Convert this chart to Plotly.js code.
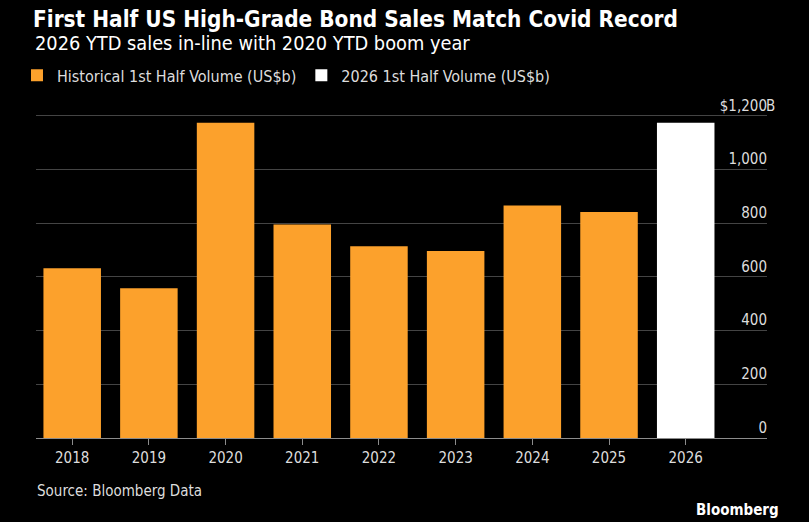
<!DOCTYPE html>
<html>
<head>
<meta charset="utf-8">
<script src="https://cdn.plot.ly/plotly-3.0.1.min.js"></script>
<style>html,body{margin:0;padding:0;background:#000;}#chart{width:809px;height:522px;}</style>
</head>
<body>
<div id="chart"></div>
<script>
const years = ['2018','2019','2020','2021','2022','2023','2024','2025','2026'];
const histYears = ['2018','2019','2020','2021','2022','2023','2024','2025'];
const histValues = [632, 558, 1174, 795, 714, 697, 866, 842];
const ytdYears = ['2026'];
const ytdValues = [1174];
const yTickVals = [0, 200, 400, 600, 800, 1000, 1200];
const yTickText = ['0', '200', '400', '600', '800', '1,000', '$1,200'];

const FONT = 'DejaVu Sans Condensed, Liberation Sans Narrow, Arial Narrow, sans-serif';
const ORANGE = '#FCA12C';

// y scale: 0 at 438px, 1200 at 115.5px
const PX_PER_UNIT = (438 - 115.5) / 1200;
const Y_TOP = 1300;
const plotH = Y_TOP * PX_PER_UNIT;
const topMargin = 438 - plotH;

const traces = [
  {type:'bar', x: histYears, y: histValues, name:'Historical 1st Half Volume (US$b)',
   marker:{color: ORANGE}, hoverinfo:'x+y'},
  {type:'bar', x: ytdYears, y: ytdValues, name:'2026 1st Half Volume (US$b)',
   marker:{color:'#FFFFFF'}, hoverinfo:'x+y'}
];

const layout = {
  width: 809, height: 522,
  paper_bgcolor:'#000', plot_bgcolor:'#000',
  margin:{l:36, r:42, t:topMargin, b:84},
  barmode:'overlay', bargap:0.25,
  font:{family: FONT, color:'#DDDDDD', size:15},
  title:{text:'<b>First Half US High-Grade Bond Sales Match Covid Record</b>',
    x:33/809, xanchor:'left', xref:'container', y:1-19/522, yanchor:'middle', yref:'container',
    font:{family: FONT, size:22.4, color:'#FFFFFF'}},
  showlegend:true,
  legend:{orientation:'h', x:-0.026, xanchor:'left', y:(438-75)/plotH, yanchor:'middle',
    font:{family: FONT, size:16, color:'#DDDDDD'}, bgcolor:'rgba(0,0,0,0)'},
  xaxis:{type:'category', categoryorder:'array', categoryarray: years, range:[-0.472, 9.06],
    showline:true, linecolor:'#8C8C8C', linewidth:1, ticks:'outside', ticklen:6, tickcolor:'#8C8C8C', tickwidth:1,
    showgrid:false, tickfont:{family: FONT, size:15, color:'#DDDDDD'}, fixedrange:true},
  yaxis:{range:[0, Y_TOP], side:'right', tickvals: yTickVals, ticktext: yTickText,
    ticklabelposition:'inside top', ticklabelstandoff:-3, ticks:'', showgrid:true, gridcolor:'#444444', gridwidth:1,
    zeroline:false, showline:false,
    tickfont:{family: FONT, size:15, color:'#DDDDDD'}, fixedrange:true},
  annotations:[
    {text:'2026 YTD sales in-line with 2020 YTD boom year', xref:'paper', yref:'paper',
     x:-3/731, y:(438-43)/plotH, xanchor:'left', yanchor:'middle', showarrow:false,
     font:{family: FONT, size:19.8, color:'#FFFFFF'}},
    {text:'B', xref:'paper', yref:'y', x:1, y:1200, xanchor:'left', yanchor:'bottom', yshift:-1, xshift:-3.5,
     showarrow:false, font:{family: FONT, size:15, color:'#DDDDDD'}},
    {text:'Source: Bloomberg Data', xref:'paper', yref:'paper', x:-1/731, y:(438-491)/plotH,
     xanchor:'left', yanchor:'middle', showarrow:false, font:{family: FONT, size:15, color:'#DDDDDD'}},
    {text:'<b>Bloomberg</b>', xref:'paper', yref:'paper', x:(781-36)/731, y:(438-510)/plotH,
     xanchor:'right', yanchor:'middle', showarrow:false, font:{family: FONT, size:15, color:'#FFFFFF'}}
  ]
};

Plotly.newPlot('chart', traces, layout, {displayModeBar:false, staticPlot:true});
</script>
</body>
</html>
